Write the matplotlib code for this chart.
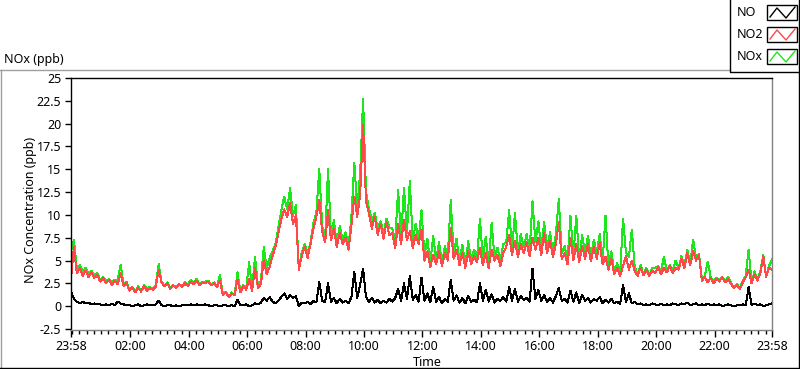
import numpy as np
import matplotlib
matplotlib.use('Agg')
import matplotlib.pyplot as plt
from matplotlib.lines import Line2D
from matplotlib.patches import Rectangle

# NOx readings, one value per 6 minutes starting at 23:58
no2 = [3.0, 6.5, 3.6, 4.2, 3.3, 3.9, 3.2, 3.7, 3.1, 3.4,
       2.7, 3.1, 2.5, 2.9, 2.3, 2.8, 2.4, 3.6, 2.2, 2.6,
       1.7, 2.1, 1.5, 2.0, 1.6, 2.2, 1.7, 2.0, 1.8, 2.1,
       4.0, 2.6, 2.2, 2.5, 1.9, 2.3, 2.0, 2.4, 2.1, 2.5,
       2.2, 2.7, 2.4, 2.8, 2.3, 2.6, 2.5, 2.7, 2.3, 2.5,
       2.1, 2.8, 1.2, 1.5, 1.0, 1.4, 1.2, 2.9, 1.5, 2.2,
       1.8, 3.0, 1.7, 4.2, 2.0, 2.4, 5.0, 3.5, 4.3, 5.5,
       6.5, 8.0, 9.5, 10.6, 9.8, 11.3, 9.0, 10.0, 4.0, 5.5,
       6.5, 5.3, 6.8, 8.5, 9.8, 11.6, 8.2, 7.0, 10.5, 7.2,
       8.5, 6.5, 8.0, 6.8, 7.5, 6.2, 8.8, 12.0, 9.8, 12.2,
       19.9, 11.5, 10.2, 8.5, 9.8, 7.8, 9.0, 7.4, 9.2, 7.8,
       8.0, 6.4, 9.0, 6.8, 9.5, 7.2, 8.2, 6.4, 7.8, 6.8,
       8.4, 5.0, 6.0, 4.3, 5.6, 4.6, 6.0, 4.4, 5.8, 5.0,
       8.6, 5.2, 6.2, 4.5, 5.8, 4.2, 6.0, 4.6, 5.5, 4.8,
       6.4, 4.5, 5.8, 4.2, 6.2, 5.0, 5.6, 4.4, 5.8, 6.5,
       7.8, 5.6, 7.2, 5.4, 6.8, 5.8, 7.0, 5.5, 7.5, 6.2,
       7.5, 5.6, 8.0, 5.8, 7.2, 5.4, 6.8, 9.2, 5.2, 5.8,
       4.6, 7.5, 5.0, 6.8, 4.8, 6.6, 5.2, 6.8, 4.9, 6.5,
       5.2, 6.9, 4.6, 5.4, 4.0, 5.2, 3.5, 4.2, 3.3, 4.4,
       5.5, 4.0, 5.0, 3.8, 3.3, 4.2, 3.4, 4.0, 3.3, 3.9,
       3.6, 4.3, 3.5, 4.2, 3.7, 4.4, 3.6, 4.2, 4.0, 5.2,
       4.2, 5.8, 4.5, 6.0, 5.0, 5.6, 2.8, 3.2, 2.6, 3.1,
       2.5, 3.0, 2.7, 3.2, 2.6, 3.0, 2.4, 2.0, 2.3, 1.9,
       2.6, 3.2, 4.0, 2.5, 3.5, 2.8, 3.6, 5.5, 3.2, 4.2,
       4.0]

no = [1.6, 0.8, 0.5, 0.3, 0.5, 0.3, 0.4, 0.2, 0.3, 0.2,
      0.2, 0.1, 0.2, 0.1, 0.3, 0.1, 0.5, 0.3, 0.2, 0.1,
      0.1, 0.0, 0.1, 0.2, 0.0, 0.1, 0.2, 0.1, 0.1, 0.2,
      0.6, 0.1, 0.0, 0.1, 0.1, 0.0, 0.1, 0.0, 0.1, 0.1,
      0.1, 0.2, 0.1, 0.2, 0.1, 0.1, 0.2, 0.1, 0.0, 0.1,
      0.1, 0.0, 0.1, 0.1, 0.0, 0.1, 0.0, 0.7, 0.1, 0.1,
      0.2, 0.0, 0.1, 0.3, 0.2, 0.4, 0.9, 0.6, 1.0, 0.5,
      0.3, 0.6, 1.0, 1.4, 0.8, 1.2, 0.9, 1.1, 0.0, 0.4,
      0.3, 0.5, 0.2, 0.6, 0.4, 2.7, 0.6, 0.4, 2.5, 0.5,
      0.9, 0.3, 0.8, 0.4, 0.6, 0.3, 1.0, 3.8, 0.9, 2.4,
      4.1, 1.0, 0.5, 0.9, 0.4, 0.7, 0.3, 0.6, 0.4, 0.8,
      0.5, 0.9, 1.9, 0.6, 2.5, 0.8, 3.3, 0.7, 1.2, 0.5,
      3.1, 0.6, 1.4, 0.4, 2.1, 0.5, 1.0, 0.3, 0.8, 0.5,
      2.9, 0.6, 1.2, 0.4, 0.9, 0.3, 1.1, 0.5, 0.7, 0.4,
      2.5, 0.6, 1.8, 0.5, 1.3, 0.4, 0.8, 0.6, 1.0, 0.5,
      2.1, 0.6, 1.9, 0.5, 1.1, 0.7, 0.9, 0.5, 4.1, 0.8,
      1.8, 0.6, 1.2, 0.5, 0.9, 0.4, 1.1, 2.0, 0.6, 0.8,
      0.4, 1.7, 0.5, 1.5, 0.3, 1.2, 0.6, 0.9, 0.4, 0.8,
      0.6, 1.0, 0.3, 0.7, 0.4, 0.8, 0.3, 0.5, 0.2, 2.3,
      0.4, 1.4, 0.3, 0.5, 0.2, 0.3, 0.1, 0.2, 0.1, 0.3,
      0.2, 0.1, 0.3, 0.1, 0.2, 0.1, 0.3, 0.2, 0.1, 0.3,
      0.2, 0.4, 0.1, 0.2, 0.3, 0.1, 0.2, 0.1, 0.3, 0.1,
      0.2, 0.1, 0.2, 0.0, 0.1, 0.2, 0.1, 0.0, 0.1, 0.1,
      0.2, 0.1, 2.1, 0.1, 0.3, 0.1, 0.2, 0.0, 0.1, 0.2,
      0.3]

nox = [6.0, 7.3, 4.1, 4.5, 3.8, 4.2, 3.6, 3.9, 3.4, 3.6,
       2.9, 3.2, 2.7, 3.0, 2.6, 2.9, 2.9, 4.5, 2.4, 2.7,
       1.8, 2.1, 1.6, 2.2, 1.6, 2.3, 1.9, 2.1, 1.9, 2.3,
       4.6, 2.7, 2.2, 2.6, 2.0, 2.3, 2.1, 2.4, 2.2, 2.6,
       2.3, 2.9, 2.5, 3.0, 2.4, 2.7, 2.7, 2.8, 2.3, 2.6,
       2.2, 3.4, 1.3, 1.6, 1.0, 1.5, 1.2, 3.7, 1.6, 2.3,
       2.0, 4.8, 1.8, 5.4, 2.2, 2.8, 6.5, 4.1, 5.3, 6.0,
       6.8, 8.6, 10.5, 12.0, 10.6, 12.9, 9.9, 11.1, 4.0, 5.9,
       6.8, 5.8, 7.0, 9.1, 10.2, 15.0, 8.8, 7.4, 15.0, 7.7,
       9.4, 6.8, 8.8, 7.2, 8.1, 6.5, 9.8, 15.7, 10.7, 14.6,
       22.7, 12.5, 10.7, 9.4, 10.2, 8.5, 9.3, 8.0, 9.6, 8.6,
       8.5, 7.3, 12.7, 7.4, 13.0, 8.0, 13.7, 7.1, 9.0, 7.3,
       10.5, 5.6, 7.4, 4.7, 7.7, 5.1, 7.0, 4.7, 6.6, 5.5,
       11.6, 5.8, 7.4, 4.9, 6.7, 4.5, 7.1, 5.1, 6.2, 5.2,
       9.6, 5.1, 7.6, 4.7, 9.1, 5.4, 6.4, 5.0, 6.8, 7.0,
       10.5, 6.2, 10.2, 5.9, 7.9, 6.5, 7.9, 6.0, 11.5, 7.0,
       9.3, 6.2, 9.2, 6.3, 8.1, 5.8, 7.9, 11.7, 5.8, 6.6,
       5.0, 9.9, 5.5, 9.9, 5.1, 7.8, 5.8, 7.7, 5.3, 7.3,
       5.8, 7.9, 4.9, 9.9, 4.4, 6.0, 3.8, 4.7, 3.5, 9.6,
       5.9, 5.4, 8.4, 4.3, 3.5, 4.5, 3.5, 4.2, 3.4, 4.2,
       4.2, 4.4, 3.8, 5.4, 3.9, 4.5, 3.9, 5.0, 4.1, 5.5,
       4.4, 6.2, 4.6, 7.3, 5.3, 5.7, 3.0, 3.3, 4.9, 3.2,
       2.7, 3.1, 2.9, 3.2, 2.7, 3.2, 2.5, 2.0, 2.4, 2.0,
       2.8, 3.3, 6.2, 2.6, 3.8, 2.9, 3.8, 5.6, 3.3, 4.4,
       5.1]

names = ['NO', 'NO2', 'NOx']
colors = ['black', '#ff4848', '#1ee61e']
time_labels = ['23:58', '02:00', '04:00', '06:00', '08:00', '10:00', '12:00',
               '14:00', '16:00', '18:00', '20:00', '22:00', '23:58']

W, H = 800, 369
def fx(px):
    return px / W
def fy(py):
    return 1 - py / H

plt.rcParams['font.family'] = 'Noto Sans'
fs = 9.0

fig = plt.figure(figsize=(8, 3.69), dpi=100)
ax = fig.add_axes([fx(71), fy(330), fx(772) - fx(71), fy(78) - fy(330)])

t = np.arange(len(no2)) * 0.1  # hours since 23:58
# NOx behind NO2, NO on top; 1 px lines like the instrument software
ax.plot(t, nox, color=colors[2], lw=0.72, antialiased=False)
ax.plot(t, no2, color=colors[1], lw=0.72, antialiased=False)
ax.plot(t, no, color=colors[0], lw=0.72, antialiased=False)

ax.set_xlim(0, 24)
ax.set_ylim(-2.61, 25)

yt = np.arange(-2.5, 25.1, 2.5)
ax.set_yticks(yt)
ax.set_yticklabels(['%g' % v for v in yt], fontsize=fs)

off = 2 / 60.0
major = [0] + [off + 2 * k for k in range(1, 12)] + [24]
ax.set_xticks(major)
ax.set_xticklabels(time_labels, fontsize=fs)
ax.set_xticks([off + 0.25 * k for k in range(96)], minor=True)
ax.tick_params(axis='x', which='major', length=5, width=1, pad=2, color='black')
ax.tick_params(axis='x', which='minor', length=3, width=1, color='black')
ax.tick_params(axis='y', length=4.5, width=1, pad=2.5, color='black')

ax.spines['left'].set_color('black')
ax.spines['top'].set_color('black')
ax.spines['right'].set_color('#808080')
ax.spines['bottom'].set_color('#808080')
for s in ax.spines.values():
    s.set_linewidth(1.0)

fig.text(fx(427), fy(362), 'Time', ha='center', va='center', fontsize=fs)
fig.text(fx(31), fy(210), 'NOx Concentration (ppb)', ha='center', va='center',
         rotation=90, fontsize=fs)
fig.text(fx(4), fy(59), 'NOx (ppb)', ha='left', va='center', fontsize=fs)

# outer frame
fig.add_artist(Line2D([fx(0), fx(730)], [fy(70), fy(70)], color='#a0a0a0', lw=1))
fig.add_artist(Line2D([fx(0.5), fx(0.5)], [fy(70), fy(369)], color='#a0a0a0', lw=1))
fig.add_artist(Line2D([fx(0), fx(800)], [fy(367.5), fy(367.5)], color='black', lw=1))
fig.add_artist(Line2D([fx(798.5), fx(798.5)], [fy(0), fy(369)], color='black', lw=1))

# legend box
fig.add_artist(Line2D([fx(730), fx(730), fx(799)], [fy(0), fy(71.5), fy(71.5)],
                      color='black', lw=1))
rows = [13, 35, 57]
for name, c, yc in zip(names, colors, rows):
    fig.text(fx(737), fy(yc), name, ha='left', va='center', fontsize=fs)
    top = yc - 8
    fig.add_artist(Rectangle((fx(767), fy(top + 15)), fx(797) - fx(767),
                             fy(top) - fy(top + 15), fill=False,
                             edgecolor='black', lw=1))
    xs = [770, 777, 786, 795]
    ys = [top + 12, top + 3, top + 13, top + 2]
    fig.add_artist(Line2D([fx(x) for x in xs], [fy(y) for y in ys], color=c, lw=1))

fig.savefig('out.png', dpi=100)
